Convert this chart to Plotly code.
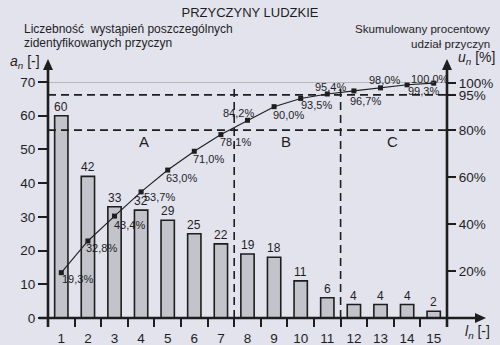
import plotly.graph_objects as go

# Pareto data: occurrences of each identified cause and cumulative share
causes = list(range(1, 16))
counts = [60, 42, 33, 32, 29, 25, 22, 19, 18, 11, 6, 4, 4, 4, 2]
cum_pct = [19.3, 32.8, 43.4, 53.7, 63.0, 71.0, 78.1, 84.2, 90.0, 93.5, 95.4, 96.7, 98.0, 99.3, 100.0]
left_ticks = [0, 10, 20, 30, 40, 50, 60, 70]
right_ticks = [20, 40, 60, 80, 95, 100]
group_names = ["A", "B", "C"]
group_x = [4.1, 9.45, 13.45]
group_bounds = [7.5, 11.5]
thresholds = [80, 95]

# pixel offsets of the percentage labels relative to their points
pct_dx = [16, 14, 15, 18, 14, 14, 15, -9, 14, 16, 3, 12, 4, 16, -4]
pct_dy = [-6, -7, -9, -5, -8, -8, -7, 7, -8, -7, 7, -10, 8, -6, 4]

BG = "#e3e3ee"
INK = "#1e1e1e"
FONT = "Liberation Sans, Arial, sans-serif"

# plot-area geometry (pixels) used to place elements outside the axes
L, R, T, B = 48, 53, 82, 27
W, H = 500, 345
PW, PH = W - L - R, H - T - B


def px(x):
    return (x - L) / PW


def py(y):
    return (H - B - y) / PH


fig = go.Figure()

fig.add_trace(go.Bar(
    x=causes, y=counts, width=0.5,
    marker=dict(color="#c3c3cb", line=dict(color=INK, width=1.6)),
    showlegend=False, hoverinfo="skip",
))

fig.add_trace(go.Scatter(
    x=causes, y=cum_pct, yaxis="y2", mode="lines+markers",
    line=dict(color=INK, width=1.1),
    marker=dict(symbol="square", size=5, color=INK),
    cliponaxis=False, showlegend=False, hoverinfo="skip",
))

shapes = []
# thin top line at the upper limit of the count axis
shapes.append(dict(type="line", xref="paper", yref="y", x0=0, x1=1, y0=70, y1=70,
                   line=dict(color="#8a8a8a", width=1), layer="above"))
# threshold lines (80 % and 95 %)
for t in thresholds:
    shapes.append(dict(type="line", xref="paper", yref="y2", x0=0, x1=1, y0=t, y1=t,
                       line=dict(color=INK, width=1.6, dash="8px,5px"), layer="above"))
# group boundaries
for b in group_bounds:
    shapes.append(dict(type="line", xref="x", yref="y", x0=b, x1=b, y0=0, y1=69,
                       line=dict(color=INK, width=1.6, dash="8px,5px"), layer="above"))

AX = dict(color=INK, width=2.6)
# vertical axes (extended below the baseline and up to arrowheads)
for xp in (0, 1):
    shapes.append(dict(type="line", xref="paper", yref="paper", x0=xp, x1=xp,
                       y0=py(327), y1=py(69), line=AX, layer="above"))
    shapes.append(dict(type="path", xref="paper", yref="paper",
                       path=f"M {xp - 5 / PW},{py(70)} L {xp},{py(59)} L {xp + 5 / PW},{py(70)} Z",
                       fillcolor=INK, line=dict(width=0), layer="above"))
# horizontal axis with arrowhead
shapes.append(dict(type="line", xref="paper", yref="paper", x0=px(39), x1=px(477),
                   y0=0, y1=0, line=AX, layer="above"))
shapes.append(dict(type="path", xref="paper", yref="paper",
                   path=f"M {px(475)},{5 / PH} L {px(486)},0 L {px(475)},{-5 / PH} Z",
                   fillcolor=INK, line=dict(width=0), layer="above"))

annotations = []
# count labels above the bars
for c, n in zip(causes, counts):
    annotations.append(dict(
        x=c, y=n, xref="x", yref="y", text=str(n), showarrow=False,
        xanchor="center", yanchor="middle", yshift=9,
        font=dict(size=12, color=INK, family=FONT),
    ))
# cumulative percentage labels
for i, (c, v) in enumerate(zip(causes, cum_pct)):
    annotations.append(dict(
        x=c, y=v, xref="x", yref="y2", text=f"{v:.1f}%".replace(".", ","),
        showarrow=False, xanchor="center", yanchor="middle",
        xshift=pct_dx[i], yshift=pct_dy[i],
        font=dict(size=11, color=INK, family=FONT),
    ))
for name, gx in zip(group_names, group_x):
    annotations.append(dict(x=gx, y=52.5, xref="x", yref="y", text=name, showarrow=False,
                            font=dict(size=15, color=INK, family=FONT)))


def note(text, x, y, anchor, size):
    annotations.append(dict(x=px(x), y=py(y), xref="paper", yref="paper", text=text,
                            showarrow=False, xanchor=anchor, yanchor="middle",
                            font=dict(size=size, color=INK, family=FONT)))


note("Liczebność  wystąpień poszczególnych", 22, 29, "left", 12)
note("zidentyfikowanych przyczyn", 22, 43, "left", 12)
note("Skumulowany procentowy", 492, 29, "right", 11.6)
note("udział przyczyn", 492, 43, "right", 11.6)
note("<i>a<sub>n</sub></i> [-]", 8, 62, "left", 14)
note("<i>u<sub>n</sub></i> [%]", 456, 58, "left", 14)
note("<i>l<sub>n</sub></i> [-]", 463, 332, "left", 14)

tickfont = dict(size=13.5, color=INK, family=FONT)

fig.update_layout(
    width=W, height=H,
    margin=dict(l=L, r=R, t=T, b=B, pad=0, autoexpand=False),
    paper_bgcolor=BG, plot_bgcolor=BG,
    title=dict(text="PRZYCZYNY LUDZKIE", x=0.5, xref="container", y=1 - 12 / H,
               yref="container", xanchor="center", yanchor="middle",
               font=dict(size=13, color=INK, family=FONT)),
    xaxis=dict(range=[0.5, 15.5], tickvals=causes, ticktext=[str(c) for c in causes],
               ticks="outside", ticklen=8, tickcolor="rgba(0,0,0,0)",
               minor=dict(tickvals=[c + 0.5 for c in causes[:-1]], ticks="outside",
                          ticklen=8, tickwidth=2, tickcolor=INK),
               showgrid=False, zeroline=False, showline=False, tickfont=tickfont,
               automargin=False),
    yaxis=dict(range=[0, 70], tickvals=left_ticks, ticks="outside", ticklen=9,
               tickwidth=2, tickcolor=INK, showgrid=False, zeroline=False,
               showline=False, tickfont=tickfont, automargin=False),
    yaxis2=dict(range=[0, 100.5], overlaying="y", side="right", tickvals=right_ticks,
                ticktext=[f"{t}%" for t in right_ticks], ticks="outside", ticklen=8,
                tickwidth=2, tickcolor=INK, showgrid=False, zeroline=False,
                showline=False, tickfont=tickfont, automargin=False),
    shapes=shapes, annotations=annotations,
    bargap=0.5,
)

fig.write_html("out.html")
